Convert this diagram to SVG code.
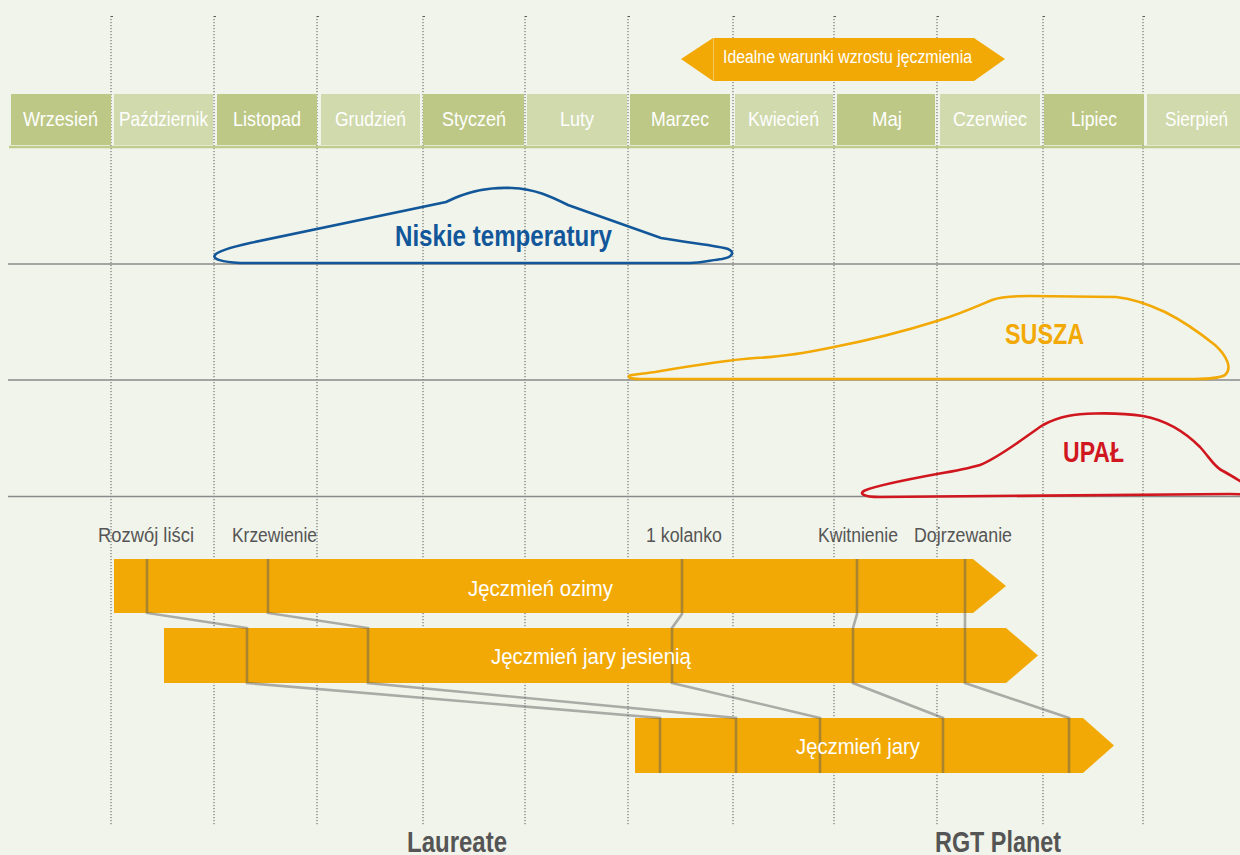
<svg xmlns="http://www.w3.org/2000/svg" width="1240" height="855" viewBox="0 0 1240 855">
<style>
.bg{fill:#f1f4ea}
.vl{stroke:#5a5a5a;stroke-width:1;stroke-dasharray:1.2 1.8;fill:none}
.hl{stroke:#8a8a8a;stroke-width:1.5;fill:none}
.md{fill:#bdc886}
.ml{fill:#d1daad}
.mt{font-family:"Liberation Sans Narrow","Liberation Sans",sans-serif;font-size:21px;fill:#ffffff}
.bar{fill:#f2a905}
.bt{font-family:"Liberation Sans Narrow","Liberation Sans",sans-serif;font-size:22px;fill:#ffffff}
.pt{font-family:"Liberation Sans Narrow","Liberation Sans",sans-serif;font-size:20px;fill:#555555}
.big{font-family:"Liberation Sans Narrow","Liberation Sans",sans-serif;font-size:30px;font-weight:bold}
.con{stroke:#5c5c5c;stroke-opacity:0.48;stroke-width:2.6;fill:none;stroke-linejoin:miter}
</style>
<rect class="bg" x="0" y="0" width="1240" height="855"/>
<g id="grid">
<path class="vl" d="M111,16V826M214,16V826M317,16V826M423,16V826M525,16V826M628,16V826M733,16V826M834,16V826M937,16V826M1043,16V826M1143,16V826"/>
<path stroke="#5a5a5a" stroke-width="1" fill="none" d="M111,16.5h2M214,16.5h2M317,16.5h2M423,16.5h2M525,16.5h2M628,16.5h2M733,16.5h2M834,16.5h2M937,16.5h2M1043,16.5h2M1143,16.5h2"/>
<path class="hl" d="M8,264H1240M8,380H1240M8,496.5H1240"/>
</g>
<g id="months">
<rect class="md" x="11" y="94" width="100" height="51"/>
<rect class="ml" x="114" y="94" width="99" height="51"/>
<rect class="md" x="217" y="94" width="100" height="51"/>
<rect class="ml" x="321" y="94" width="99" height="51"/>
<rect class="md" x="423" y="94" width="101" height="51"/>
<rect class="ml" x="527" y="94" width="100" height="51"/>
<rect class="md" x="630" y="94" width="100" height="51"/>
<rect class="ml" x="735" y="94" width="98" height="51"/>
<rect class="md" x="837" y="94" width="98" height="51"/>
<rect class="ml" x="940" y="94" width="100" height="51"/>
<rect class="md" x="1044" y="94" width="100" height="51"/>
<rect class="ml" x="1147" y="94" width="100" height="51"/>
<line x1="9" y1="147" x2="1240" y2="147" stroke="#bfcc8c" stroke-width="2.6"/>
<text class="mt" x="23" y="126" textLength="75" lengthAdjust="spacingAndGlyphs">Wrzesień</text>
<text class="mt" x="119" y="126" textLength="89" lengthAdjust="spacingAndGlyphs">Październik</text>
<text class="mt" x="233" y="126" textLength="68" lengthAdjust="spacingAndGlyphs">Listopad</text>
<text class="mt" x="335" y="126" textLength="71" lengthAdjust="spacingAndGlyphs">Grudzień</text>
<text class="mt" x="442" y="126" textLength="64" lengthAdjust="spacingAndGlyphs">Styczeń</text>
<text class="mt" x="560" y="126" textLength="34" lengthAdjust="spacingAndGlyphs">Luty</text>
<text class="mt" x="651" y="126" textLength="58" lengthAdjust="spacingAndGlyphs">Marzec</text>
<text class="mt" x="748" y="126" textLength="71" lengthAdjust="spacingAndGlyphs">Kwiecień</text>
<text class="mt" x="872" y="126" textLength="30" lengthAdjust="spacingAndGlyphs">Maj</text>
<text class="mt" x="953" y="126" textLength="74" lengthAdjust="spacingAndGlyphs">Czerwiec</text>
<text class="mt" x="1071" y="126" textLength="46" lengthAdjust="spacingAndGlyphs">Lipiec</text>
<text class="mt" x="1165" y="126" textLength="63" lengthAdjust="spacingAndGlyphs">Sierpień</text>
</g>
<g id="ideal">
<polygon class="bar" points="681,59 713,38 974,38 1005,59 974,81 713,81"/>
<line x1="713.5" y1="38" x2="713.5" y2="81" stroke="#f7c760" stroke-width="1"/>
<text class="mt" style="font-size:18px" x="723" y="63" textLength="249" lengthAdjust="spacingAndGlyphs">Idealne warunki wzrostu jęczmienia</text>
</g>
<g id="niskie">
<path fill="none" stroke="#12579a" stroke-width="2.6" d="M240,263 C222,262 212,259 215,255 C218,251 232,247 250,243 L446,202 C470,190 490,187 512,188 C535,189 550,196 568,205 L661,238 C690,243 720,246 728,249 C735,252 733,257 722,259 C712,260 700,263 690,263 Z"/>
<text class="big" fill="#12579a" x="395" y="246" textLength="217" lengthAdjust="spacingAndGlyphs">Niskie temperatury</text>
</g>
<g id="susza">
<path fill="none" stroke="#f2a905" stroke-width="2.6" d="M640,379 C628,379 626,376 632,375 C640,374 648,373 655,372 C690,366 725,360 755,358 C785,357 810,352 834,347 C870,340 905,331 937,321 C960,314 980,305 992,300 C1000,297 1010,296 1030,296 L1116,297 C1135,299 1150,305 1165,312 C1185,322 1205,337 1215,345 C1226,355 1233,368 1225,375 C1218,379 1205,379 1195,379 Z"/>
<text class="big" fill="#f2a905" x="1005" y="344" textLength="79" lengthAdjust="spacingAndGlyphs">SUSZA</text>
</g>
<g id="upal">
<path fill="none" stroke="#d0161e" stroke-width="2.6" d="M880,497 C862,497 858,493 866,490 C878,485 910,479 937,474 C955,471 970,468 980,465 C1000,457 1025,437 1043,425 C1060,416 1075,414 1095,413.5 C1115,413 1130,414 1143,416 C1165,420 1185,432 1200,447 C1210,458 1215,468 1223,471 C1232,476 1240,481 1250,487 L1250,494 C1245,495 1240,494 1230,494 Z"/>
<text class="big" fill="#d0161e" style="font-size:29px" x="1063" y="462" textLength="61" lengthAdjust="spacingAndGlyphs">UPAŁ</text>
</g>
<g id="phases">
<text class="pt" x="98" y="542" textLength="96" lengthAdjust="spacingAndGlyphs">Rozwój liści</text>
<text class="pt" x="232" y="542" textLength="85" lengthAdjust="spacingAndGlyphs">Krzewienie</text>
<text class="pt" x="646" y="542" textLength="76" lengthAdjust="spacingAndGlyphs">1 kolanko</text>
<text class="pt" x="818" y="542" textLength="80" lengthAdjust="spacingAndGlyphs">Kwitnienie</text>
<text class="pt" x="914" y="542" textLength="98" lengthAdjust="spacingAndGlyphs">Dojrzewanie</text>
</g>
<g id="bar-ozimy">
<polygon class="bar" points="114,559 973,559 1006,586 973,613 114,613"/>
</g>
<g id="bar-jesienia">
<polygon class="bar" points="164,628 1006,628 1038,655.5 1006,683 164,683"/>
</g>
<g id="bar-jary">
<polygon class="bar" points="635,718 1083,718 1114,745.5 1083,773 635,773"/>
</g>
<g id="connectors">
<polyline class="con" points="147,559 147,613 247,628 247,683 660,718 660,773"/>
<polyline class="con" points="268,559 268,613 368,628 368,683 736,718 736,773"/>
<polyline class="con" points="682,559 682,614 672,628 672,683 820,718 820,773"/>
<polyline class="con" points="857,559 857,614 853,628 853,683 943,718 943,773"/>
<polyline class="con" points="965,559 965,683 1069,718 1069,773"/>
</g>
<g id="bar-labels">
<text class="bt" x="468" y="596" textLength="145" lengthAdjust="spacingAndGlyphs">Jęczmień ozimy</text>
<text class="bt" x="491" y="664" textLength="200" lengthAdjust="spacingAndGlyphs">Jęczmień jary jesienią</text>
<text class="bt" x="796" y="754" textLength="124" lengthAdjust="spacingAndGlyphs">Jęczmień jary</text>
</g>
<g id="varieties">
<text class="big" fill="#555555" x="407" y="852" textLength="100" lengthAdjust="spacingAndGlyphs">Laureate</text>
<text class="big" fill="#555555" x="935" y="852" textLength="126" lengthAdjust="spacingAndGlyphs">RGT Planet</text>
</g>
</svg>
